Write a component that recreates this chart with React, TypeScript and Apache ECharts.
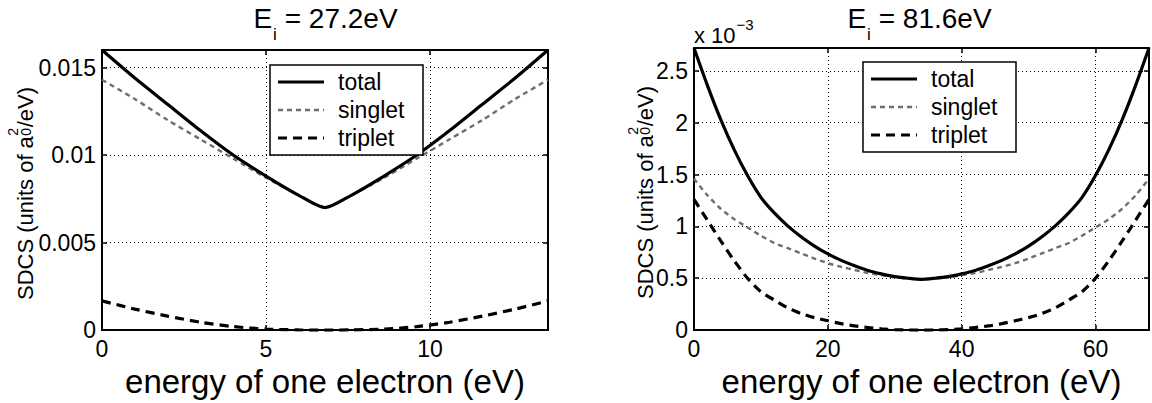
import React, { useEffect, useRef } from 'react';
import * as echarts from 'echarts';

// ---------- data ----------
const energyLeft = [0, 1, 2, 3, 4, 5, 6, 6.8, 7.6, 8.6, 9.6, 10.6, 11.6, 12.6, 13.6];
const totalLeft = [0.016, 0.0144, 0.0129, 0.0114, 0.01, 0.0088, 0.0077, 0.007, 0.0077, 0.0088, 0.01, 0.0114, 0.0129, 0.0144, 0.016];
const singletLeft = [0.0143, 0.0132, 0.012, 0.0109, 0.0098, 0.0087, 0.0077, 0.007, 0.0077, 0.0087, 0.0098, 0.0109, 0.012, 0.0132, 0.0143];
const tripletLeft = [0.00167, 0.0012, 0.0008, 0.00045, 0.0002, 0.00006, 0.00001, 0, 0.00001, 0.00006, 0.0002, 0.00045, 0.0008, 0.0012, 0.00167];

const energyRight = [0, 2, 4, 6, 8, 10, 12, 14, 16, 18, 20, 22, 24, 26, 28, 30, 32, 34, 36, 38, 40, 42, 44, 46, 48, 50, 52, 54, 56, 58, 60, 62, 64, 66, 68];
// values in units of 1e-3
const totalRight = [2.72, 2.36, 2.03, 1.74, 1.49, 1.28, 1.13, 1.005, 0.9, 0.81, 0.735, 0.672, 0.62, 0.575, 0.542, 0.515, 0.5, 0.49, 0.5, 0.515, 0.542, 0.575, 0.62, 0.672, 0.735, 0.81, 0.9, 1.005, 1.13, 1.28, 1.49, 1.74, 2.03, 2.36, 2.72];
const singletRight = [1.46, 1.3, 1.17, 1.07, 0.99, 0.91, 0.84, 0.79, 0.74, 0.69, 0.645, 0.61, 0.58, 0.55, 0.53, 0.51, 0.5, 0.49, 0.5, 0.51, 0.53, 0.55, 0.58, 0.61, 0.645, 0.69, 0.74, 0.79, 0.84, 0.91, 0.99, 1.07, 1.17, 1.3, 1.46];
const tripletRight = [1.26, 1.06, 0.86, 0.67, 0.5, 0.37, 0.29, 0.215, 0.16, 0.12, 0.09, 0.062, 0.04, 0.025, 0.012, 0.005, 0.001, 0, 0.001, 0.005, 0.012, 0.025, 0.04, 0.062, 0.09, 0.12, 0.16, 0.215, 0.29, 0.37, 0.5, 0.67, 0.86, 1.06, 1.26];

const seriesNames = ['total', 'singlet', 'triplet'];
const titlesValue = ['27.2eV', '81.6eV'];
const xAxisTitle = 'energy of one electron (eV)';

const FONT = '"Liberation Sans", Arial, Helvetica, sans-serif';

let measureCtx: CanvasRenderingContext2D | null = null;
function measure(text: string, size: number): number {
  if (!measureCtx) measureCtx = document.createElement('canvas').getContext('2d');
  measureCtx!.font = `${size}px "Liberation Sans", Arial, sans-serif`;
  return measureCtx!.measureText(text).width;
}

function txt(text: string, x: number, y: number, size: number, extra: any = {}) {
  return {
    type: 'text',
    x,
    y,
    z: 20,
    silent: true,
    style: { text, fontSize: size, fontFamily: FONT, fill: '#000', align: 'left', verticalAlign: 'middle', ...extra },
  };
}

function makeTitle(cx: number, cy: number, value: string) {
  const big = 28;
  const small = 17;
  const wE = measure('E', big);
  const wi = measure('i', small);
  const rest = ' = ' + value;
  const wR = measure(rest, big);
  const W = wE + wi + wR;
  const x0 = cx - W / 2;
  return {
    type: 'group',
    children: [
      txt('E', x0, cy, big),
      txt('i', x0 + wE + 1, cy + 16, small),
      txt(rest, x0 + wE + wi + 1, cy, big),
    ],
  };
}

function makeYLabel(gx: number, gy: number) {
  const big = 22;
  const small = 14;
  const t1 = 'SDCS (units of a';
  const t2 = '/eV)';
  const w1 = measure(t1, big);
  const ws = measure('2', small);
  const w2 = measure(t2, big);
  const W = w1 + ws + w2;
  const x0 = -W / 2;
  return {
    type: 'group',
    x: gx,
    y: gy,
    rotation: Math.PI / 2,
    children: [
      txt(t1, x0, 0, big),
      txt('2', x0 + w1 + 0.5, -12.5, small),
      txt('0', x0 + w1 + 0.5, 0, small),
      txt(t2, x0 + w1 + ws + 1, 0, big),
    ],
  };
}

const lineStyles = [
  { color: '#000', width: 3.2, type: 'solid', dash: null as any },
  { color: '#6e6e6e', width: 2.4, type: [5, 4], dash: [5, 4] },
  { color: '#000', width: 3.2, type: [9, 6], dash: [9, 6] },
];

function makeLegend(left: number, top: number) {
  const w = 153;
  const h = 90;
  const children: any[] = [
    { type: 'rect', z: 19, silent: true, shape: { x: left, y: top, width: w, height: h }, style: { fill: '#fff', stroke: '#000', lineWidth: 1.5 } },
  ];
  seriesNames.forEach((n, k) => {
    const cy = top + 17 + k * 28;
    children.push({
      type: 'line', z: 20, silent: true,
      shape: { x1: left + 8, y1: cy, x2: left + 54, y2: cy },
      style: { stroke: lineStyles[k].color, lineWidth: lineStyles[k].width, lineDash: lineStyles[k].dash },
    });
    children.push(txt(n, left + 68, cy, 23));
  });
  return { type: 'group', children };
}

const grids = [
  { left: 102, top: 50, width: 446, height: 288 },
  { left: 694, top: 48, width: 455, height: 290 },
];

const xRanges = [
  { max: 13.6, interval: 5 },
  { max: 68, interval: 20 },
];
const yRanges = [
  { max: 0.016, interval: 0.005 },
  { max: 2.72, interval: 0.5 },
];

function buildOption() {
  const lineAxis = { show: true, onZero: false, lineStyle: { color: '#000', width: 2 } };
  const tick = { show: true, inside: true, length: 5, lineStyle: { color: '#000', width: 1.5 } };
  const split = { show: true, lineStyle: { color: '#000', width: 1, type: [1, 3] } };
  const label = { fontSize: 23, color: '#000', fontFamily: FONT, showMaxLabel: false };

  const xAxis: any[] = [];
  const yAxis: any[] = [];
  grids.forEach((_, g) => {
    xAxis.push({
      gridIndex: g, type: 'value', min: 0, max: xRanges[g].max, interval: xRanges[g].interval, position: 'bottom',
      axisLine: lineAxis, axisTick: tick, splitLine: split,
      axisLabel: { ...label, margin: 7 },
      name: xAxisTitle, nameLocation: 'middle', nameGap: 27,
      nameTextStyle: { fontSize: 33, color: '#000', fontFamily: FONT },
    });
    xAxis.push({
      gridIndex: g, type: 'value', min: 0, max: xRanges[g].max, interval: xRanges[g].interval, position: 'top',
      axisLine: lineAxis, axisTick: tick, splitLine: { show: false }, axisLabel: { show: false },
    });
    yAxis.push({
      gridIndex: g, type: 'value', min: 0, max: yRanges[g].max, interval: yRanges[g].interval, position: 'left',
      axisLine: lineAxis, axisTick: tick, splitLine: split,
      axisLabel: { ...label, margin: 6 },
    });
    yAxis.push({
      gridIndex: g, type: 'value', min: 0, max: yRanges[g].max, interval: yRanges[g].interval, position: 'right',
      axisLine: lineAxis, axisTick: tick, splitLine: { show: false }, axisLabel: { show: false },
    });
  });

  const dataSets = [
    { e: energyLeft, vals: [totalLeft, singletLeft, tripletLeft] },
    { e: energyRight, vals: [totalRight, singletRight, tripletRight] },
  ];
  const series: any[] = [];
  dataSets.forEach((ds, g) => {
    ds.vals.forEach((vals, k) => {
      series.push({
        type: 'line',
        name: seriesNames[k],
        xAxisIndex: g * 2,
        yAxisIndex: g * 2,
        data: ds.e.map((e, i) => [e, vals[i]]),
        symbol: 'none',
        smooth: 0.25,
        lineStyle: { color: lineStyles[k].color, width: lineStyles[k].width, type: lineStyles[k].type },
        itemStyle: { color: lineStyles[k].color },
        z: 5 - k,
      });
    });
  });

  return {
    animation: false,
    grid: grids,
    xAxis,
    yAxis,
    series,
    graphic: [
      makeTitle(325, 18, titlesValue[0]),
      makeTitle(919, 18, titlesValue[1]),
      makeYLabel(25.5, 194),
      makeYLabel(645, 193),
      txt('x 10', 694, 35, 22),
      txt('\u22123', 694 + measure('x 10', 22) + 1, 24, 15),
      makeLegend(270, 65),
      makeLegend(863, 62),
    ],
  };
}

export default function App() {
  const ref = useRef<HTMLDivElement>(null);
  useEffect(() => {
    const chart = echarts.init(ref.current!, null, { renderer: 'svg' });
    chart.setOption(buildOption() as any);
    return () => chart.dispose();
  }, []);
  return (
    <div
      ref={ref}
      style={{ position: 'absolute', left: 0, top: 0, width: 1152, height: 403, background: '#fff' }}
    />
  );
}
